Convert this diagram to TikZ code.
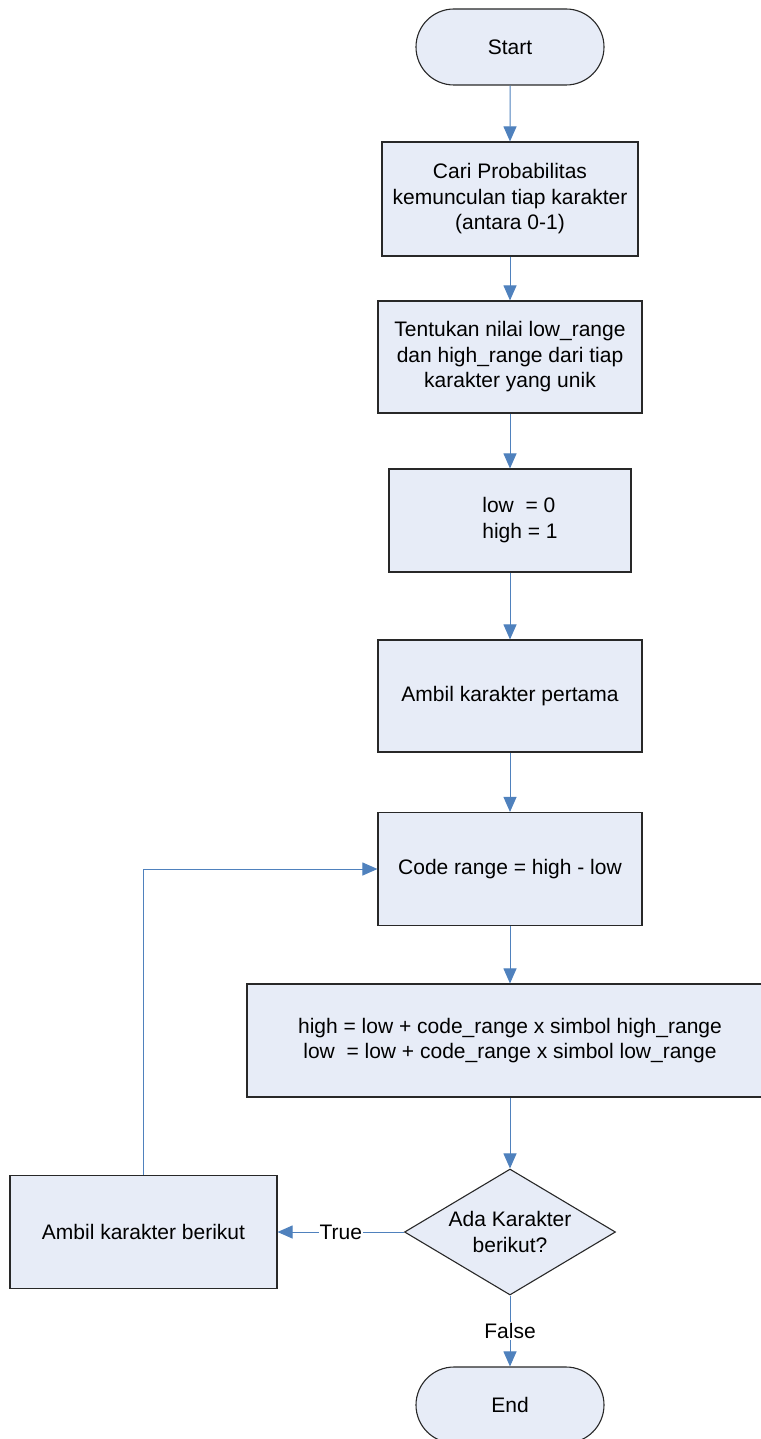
\documentclass[tikz,border=0pt]{standalone}
\usepackage{fontspec}
\setmainfont{Liberation Sans}
\usetikzlibrary{arrows.meta,shapes.misc,shapes.geometric}

\definecolor{boxfill}{RGB}{231,236,247}
\definecolor{boxline}{RGB}{40,40,40}
\definecolor{flowline}{RGB}{79,129,189}

\tikzset{
  base/.style={draw=boxline, line width=1.1pt, fill=boxfill, inner sep=0pt,
    align=center, font=\fontsize{21}{25.5}\selectfont},
  procbox/.style={base, rectangle},
  termbox/.style={base, rounded rectangle, minimum width=188pt, minimum height=76pt},
  decbox/.style={base, diamond, aspect=1.67, minimum width=211pt, minimum height=126pt},
  flow/.style={draw=flowline, line width=1pt,
    -{Triangle[width=13pt,length=15pt,fill=flowline]}},
  edgelabel/.style={fill=white, inner sep=1pt, font=\fontsize{21}{25}\selectfont}
}

\begin{document}
\begin{tikzpicture}[x=1pt, y=-1pt]
  \useasboundingbox (0,0) rectangle (760,1439);

  % process chain
  \node[termbox] (start) at (510,47) {Start};
  \node[procbox, minimum width=256pt, minimum height=114pt] (prob) at (510,199)
    {Cari Probabilitas\\kemunculan tiap karakter\\(antara 0-1)};
  \node[procbox, minimum width=264pt, minimum height=112pt] (range) at (510,357)
    {Tentukan nilai low\_range\\dan high\_range dari tiap\\karakter yang unik};
  \node[procbox, minimum width=242pt, minimum height=103pt] (init) at (510,520.5)
    {\begin{tabular}{@{\hspace{20pt}}l@{}}low\ \ = 0\\high = 1\end{tabular}};
  \node[procbox, minimum width=264pt, minimum height=112pt] (first) at (510,696)
    {Ambil karakter pertama};
  \node[procbox, minimum width=264pt, minimum height=113pt] (code) at (510,869)
    {Code range = high - low};
  \node[procbox, minimum width=526pt, minimum height=113pt] (update) at (510,1040.5)
    {high = low + code\_range x simbol high\_range\\low\ \ = low + code\_range x simbol low\_range};
  \node[decbox] (more) at (510,1232) {Ada Karakter\\berikut?};
  \node[procbox, minimum width=267pt, minimum height=113pt] (next) at (143.5,1232)
    {Ambil karakter berikut};
  \node[termbox] (stop) at (510,1405) {End};

  % connectors
  \draw[flow] (start) -- (prob);
  \draw[flow] (prob) -- (range);
  \draw[flow] (range) -- (init);
  \draw[flow] (init) -- (first);
  \draw[flow] (first) -- (code);
  \draw[flow] (code) -- (update);
  \draw[flow] (update) -- (more);
  \draw[flow] (more) -- node[edgelabel] {True} (next);
  \draw[flow] (more) -- node[edgelabel] {False} (stop);
  \draw[flow] (next.north) |- (code.west);
\end{tikzpicture}
\end{document}
